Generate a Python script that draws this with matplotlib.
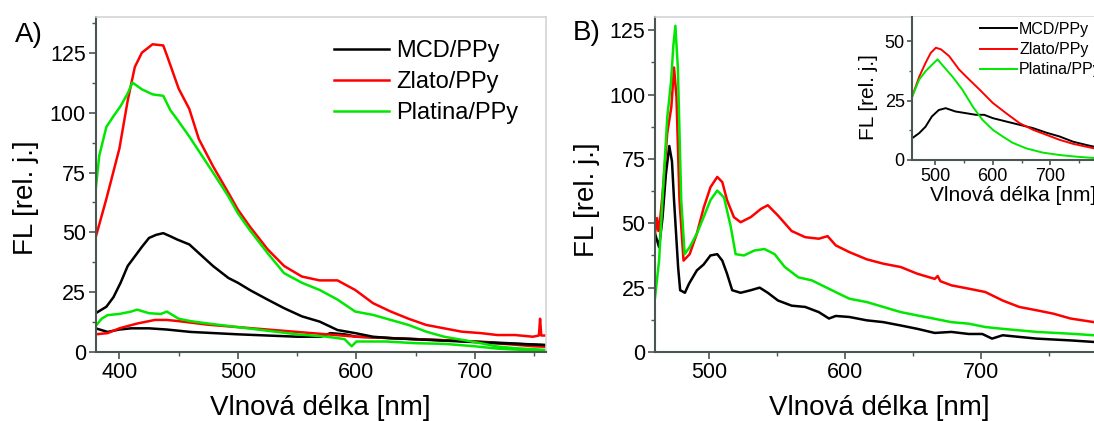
import matplotlib
matplotlib.use("Agg")
import matplotlib.pyplot as plt
from matplotlib.ticker import MultipleLocator

plt.rcParams['font.family'] = ['Liberation Sans', 'DejaVu Sans']

labels = ["MCD/PPy", "Zlato/PPy", "Platina/PPy"]
colors = ["#000000", "#ff0000", "#00e800"]

# ---- Panel A: main spectra ----
a_mcd_x = [380, 389, 395, 401, 407, 413, 419, 425, 431, 437, 443, 449, 459, 467, 479, 492, 500, 510, 525, 539, 554, 569, 584, 599, 614, 629, 659, 689, 719, 760]
a_mcd_y = [16.3, 19, 23, 29, 36, 40, 44, 47.7, 49, 49.7, 48.4, 47, 45, 41.4, 36, 31, 29, 26, 22, 18.4, 15, 12.8, 9.3, 8, 6.5, 5.9, 5.2, 4.5, 3.8, 3]

a_zl_x = [380, 389, 400, 407, 413, 419, 428, 437, 440, 450, 459, 467, 479, 492, 500, 510, 525, 539, 554, 569, 584, 599, 614, 629, 644, 659, 674, 689, 705, 719, 734, 749, 754, 755, 756, 760]
a_zl_y = [48, 64, 85, 105, 119, 125, 128.5, 128, 124, 110, 101.5, 89, 77.6, 66.5, 59.5, 52.5, 43, 36, 31.6, 30, 30, 26, 20.5, 17, 14, 11.4, 10, 8.6, 8, 7.2, 7.2, 6.5, 7, 14, 7, 7]

a_pt_x = [380, 383, 389, 395, 401, 407, 411, 419, 428, 437, 443, 449, 459, 467, 479, 492, 500, 510, 525, 539, 554, 569, 584, 599, 614, 629, 644, 659, 674, 689, 705, 719, 734, 760]
a_pt_y = [68, 82, 94, 98.5, 102.7, 108, 112.5, 109.7, 107.6, 107, 101, 97, 90, 84, 75, 65, 58, 51, 41.4, 33, 29, 26, 22, 17, 15.6, 13.5, 11.4, 8.6, 6.5, 5.2, 3.8, 2.4, 1.7, 1]

# ---- Panel A: low (background) spectra ----
a_mcd0_x = [380, 390, 400, 410, 425, 440, 460, 480, 500, 525, 550, 570, 578, 590, 600, 650, 700, 760]
a_mcd0_y = [10, 8.5, 9.5, 10, 10, 9.5, 8.5, 8, 7.5, 7, 6.5, 6.5, 8, 7.5, 6.5, 5.5, 4.5, 3]

a_zl0_x = [380, 390, 400, 415, 430, 440, 450, 475, 500, 525, 550, 575, 600, 625, 650, 675, 700, 725, 750, 760]
a_zl0_y = [7.5, 8, 10, 12, 13.5, 13.5, 13, 11.5, 10.5, 9.5, 8.5, 7.5, 6.5, 6, 5.5, 5, 4.5, 3.5, 2.5, 2.3]

a_pt0_x = [380, 385, 390, 400, 410, 415, 425, 435, 440, 450, 460, 475, 500, 525, 550, 575, 590, 596, 600, 625, 650, 675, 700, 720, 740, 760]
a_pt0_y = [11, 14, 15.5, 16, 17, 17.8, 16.3, 16, 17, 14, 13, 12, 10.5, 9, 7.5, 6.5, 5.5, 2.5, 4.5, 4.5, 3.8, 3.5, 2.5, 1.5, 1, 0.8]

# ---- Panel B ----
b_mcd_x = [460, 463, 465.5, 468, 470.5, 472.5, 474, 477, 478.5, 482, 485, 490.8, 495.8, 500.8, 505.8, 509.5, 513, 516.8, 523, 530.5, 537, 543, 550.5, 560.5, 570.5, 580.5, 588, 593, 603, 615.8, 628, 640.8, 653, 665.8, 678, 690.8, 700.8, 708, 715.8, 740.8, 765.8, 783]
b_mcd_y = [46, 40.7, 52, 69, 80, 74, 59, 33, 24, 23, 26.5, 31.7, 34, 37.5, 38, 35.5, 30.4, 24, 23, 24, 25, 23, 20, 18, 17.5, 15.5, 13, 14, 13.6, 12.3, 11.6, 10.3, 9, 7.4, 7.8, 7, 7, 5.2, 6.5, 5.2, 4.5, 3.9]

b_zl_x = [460, 461.5, 462.5, 463.5, 465.5, 469, 472, 474, 475.8, 478, 481, 485.5, 490.8, 495.8, 500.8, 505.8, 509.5, 513, 518, 523, 530.5, 538, 543, 550.5, 560.5, 570.5, 580.5, 587, 593, 603, 615.8, 628, 640.8, 653, 665.8, 668, 670, 678, 690.8, 703, 715.8, 728, 740.8, 753, 765.8, 783]
b_zl_y = [46, 52, 47, 50, 61, 85, 95, 110.5, 99, 59, 35.5, 38, 46, 56, 64, 68, 66, 59, 52.4, 50.4, 52.4, 55.6, 57, 53, 47, 44.6, 44, 45, 41.4, 38.8, 36, 34.3, 33, 30.4, 28.4, 29.5, 27.5, 25.9, 24.6, 23.3, 20, 17.5, 16.2, 14.9, 13, 11.6]

b_pt_x = [460, 463, 465.5, 469, 471.8, 473.5, 475, 476.8, 479.3, 481.8, 485.5, 490.8, 495.8, 500.8, 505.8, 510.8, 515.8, 519.3, 525.5, 533, 540.5, 548, 555.5, 565.5, 575.5, 585.5, 595.5, 603, 615.8, 628, 640.8, 653, 665.8, 678, 690.8, 703, 715.8, 740.8, 765.8, 783]
b_pt_y = [21, 35.5, 59, 91, 105, 119, 126.7, 110.5, 59, 38, 40.7, 46, 52.4, 59, 62.7, 60, 48.5, 38, 37.5, 39.4, 40, 38, 33, 29, 27.8, 25.2, 22.6, 20.7, 19.4, 17.5, 15.5, 14.2, 12.9, 11.6, 11, 9.7, 9, 7.8, 7.1, 6.5]

# ---- Inset ----
i_mcd_x = [460, 472, 483, 494, 506, 518, 535, 553, 570.5, 585, 600, 623, 646.5, 670, 693, 716, 739.5, 763, 776]
i_mcd_y = [9.2, 11.3, 14, 18.3, 21, 21.8, 20.4, 19.7, 19, 19, 17.6, 16.2, 14.8, 13.4, 11.5, 9.9, 7.7, 6.3, 5.6]

i_zl_x = [460, 472, 483, 492, 501, 510, 524, 541.5, 559, 577, 600, 623, 646.5, 670, 693, 716, 739.5, 776]
i_zl_y = [26.8, 35, 40.8, 45, 47.2, 46.5, 43.7, 38, 33.8, 29.6, 24, 19.7, 15.5, 12.7, 10.6, 8.5, 6.8, 4.9]

i_pt_x = [460, 472, 483, 494, 504, 512, 530, 547, 565, 582, 600, 617, 634, 658, 687, 716, 745, 776]
i_pt_y = [26.8, 33.8, 37.3, 40, 42.3, 40, 35, 29.6, 22.5, 16.9, 12.7, 9.9, 7.3, 4.9, 3.1, 2.1, 1.4, 0.85]

W, H = 1094, 421
fig = plt.figure(figsize=(W / 100, H / 100), dpi=100)

dark = "#4a5650"
light = "#d4d4d4"


def style(ax, tick_fs, maj_len=5, min_len=3):
    for s in ("left", "bottom"):
        ax.spines[s].set_color(dark)
        ax.spines[s].set_linewidth(1.5)
    for s in ("top", "right"):
        ax.spines[s].set_color(light)
        ax.spines[s].set_linewidth(1.2)
    ax.tick_params(which="both", direction="out", color=dark, top=False, right=False,
                   labelsize=tick_fs, pad=2)
    ax.tick_params(which="major", length=maj_len, width=1.2)
    ax.tick_params(which="minor", length=min_len, width=1.0)


def frac(x0, y0, x1, y1):
    return [x0 / W, 1 - y1 / H, (x1 - x0) / W, (y1 - y0) / H]


lw = 1.8

# Panel A
axA = fig.add_axes(frac(95.7, 16.7, 546, 352.3))
series_a = [(a_mcd_x, a_mcd_y), (a_zl_x, a_zl_y), (a_pt_x, a_pt_y)]
series_a0 = [(a_mcd0_x, a_mcd0_y), (a_zl0_x, a_zl0_y), (a_pt0_x, a_pt0_y)]
for (x, y), c in zip(series_a0, colors):
    axA.plot(x, y, color=c, lw=lw)
for (x, y), c, l in zip(series_a, colors, labels):
    axA.plot(x, y, color=c, lw=lw, label=l)
axA.set_xlim(380, 760)
axA.set_ylim(0, 140)
axA.xaxis.set_major_locator(MultipleLocator(100))
axA.xaxis.set_minor_locator(MultipleLocator(50))
axA.yaxis.set_major_locator(MultipleLocator(25))
axA.yaxis.set_minor_locator(MultipleLocator(12.5))
style(axA, 15.5)
axA.set_xlabel("Vlnová délka [nm]", fontsize=20)
axA.set_ylabel("FL [rel. j.]", fontsize=20)
axA.xaxis.set_label_coords(0.498, -0.166)
axA.xaxis.label.set_va("center")
axA.yaxis.set_label_coords(-0.155, 0.46)
axA.yaxis.label.set_va("center")
axA.legend(loc="upper left", bbox_to_anchor=((343.5 - 95.7) / 450.3 - 0.02, 1 - (40 - 16.7) / 335.6),
           frameon=False, fontsize=17, handlelength=2.3, handletextpad=0.3,
           labelspacing=0.38, borderaxespad=0, borderpad=0)

# Panel B
axB = fig.add_axes(frac(655, 17.3, 1094, 352))
series_b = [(b_mcd_x, b_mcd_y), (b_zl_x, b_zl_y), (b_pt_x, b_pt_y)]
for (x, y), c in zip(series_b, colors):
    axB.plot(x, y, color=c, lw=lw)
axB.set_xlim(460, 783)
axB.set_ylim(0, 130)
axB.xaxis.set_major_locator(MultipleLocator(100))
axB.xaxis.set_minor_locator(MultipleLocator(50))
axB.yaxis.set_major_locator(MultipleLocator(25))
axB.yaxis.set_minor_locator(MultipleLocator(12.5))
style(axB, 15.5)
axB.spines["right"].set_visible(False)
axB.set_xlabel("Vlnová délka [nm]", fontsize=20)
axB.set_ylabel("FL [rel. j.]", fontsize=20)
axB.xaxis.set_label_coords(0.51, -0.166)
axB.xaxis.label.set_va("center")
axB.yaxis.set_label_coords(-0.155, 0.455)
axB.yaxis.label.set_va("center")

# Inset
axI = fig.add_axes(frac(912.3, 17.3, 1094, 160))
series_i = [(i_mcd_x, i_mcd_y), (i_zl_x, i_zl_y), (i_pt_x, i_pt_y)]
for (x, y), c, l in zip(series_i, colors, labels):
    axI.plot(x, y, color=c, lw=1.4, label=l)
axI.set_xlim(460, 776)
axI.set_ylim(0, 60)
axI.xaxis.set_major_locator(MultipleLocator(100))
axI.xaxis.set_minor_locator(MultipleLocator(50))
axI.yaxis.set_major_locator(MultipleLocator(25))
axI.yaxis.set_minor_locator(MultipleLocator(12.5))
style(axI, 13, maj_len=3.5, min_len=2)
axI.spines["top"].set_visible(False)
axI.spines["right"].set_visible(False)
axI.set_xlabel("Vlnová délka [nm]", fontsize=15)
axI.set_ylabel("FL [rel. j.]", fontsize=15)
axI.xaxis.set_label_coords(0.555, -0.25)
axI.xaxis.label.set_va("center")
axI.yaxis.set_label_coords(-0.24, 0.44)
axI.yaxis.label.set_va("center")
axI.legend(loc="upper left", bbox_to_anchor=((981.7 - 912.3) / 181.7 - 0.01, 1 - (22 - 17.3) / 142.7),
           frameon=False, fontsize=11.5, handlelength=2.3, handletextpad=0.15,
           labelspacing=0.32, borderaxespad=0, borderpad=0)

fig.text(15 / W, 1 - 42 / H, "A)", fontsize=20, va="baseline", ha="left")
fig.text(573 / W, 1 - 40 / H, "B)", fontsize=20, va="baseline", ha="left")

fig.savefig("out.png", dpi=100)
